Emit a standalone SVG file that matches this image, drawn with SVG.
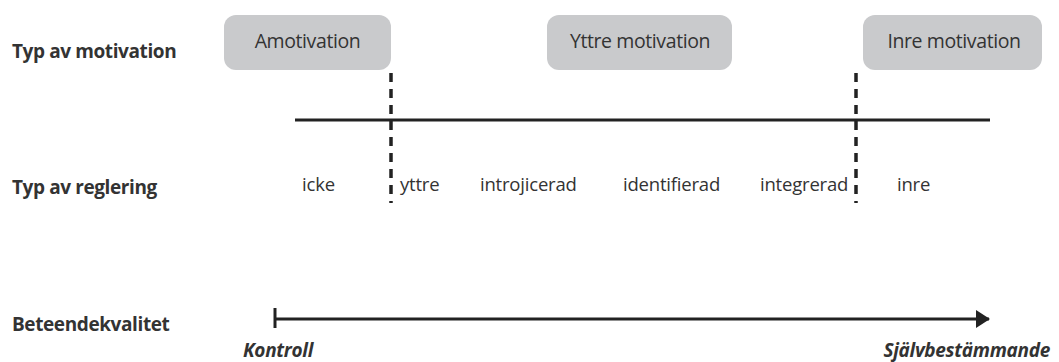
<svg xmlns="http://www.w3.org/2000/svg" width="1059" height="362" viewBox="0 0 1059 362">
<style>
.lbl{font-family:"Open Sans","Liberation Sans",sans-serif;font-weight:bold;font-size:19px;fill:#333;letter-spacing:-0.4px}
.box{fill:#c9cacc}
.bt{font-family:"Open Sans","Liberation Sans",sans-serif;font-size:19.5px;fill:#333;text-anchor:middle;letter-spacing:-0.4px}
.reg{font-family:"Open Sans","Liberation Sans",sans-serif;font-size:18.5px;fill:#333;letter-spacing:-0.2px}
.end{font-family:"Open Sans","Liberation Sans",sans-serif;font-size:19px;font-weight:bold;font-style:italic;fill:#333;letter-spacing:-0.3px}
.dash{stroke:#222;stroke-width:3.5;stroke-dasharray:9 7;fill:none}
.ln{stroke:#222;stroke-width:3;fill:none}
</style>
<defs>
<marker id="arr" markerWidth="14" markerHeight="18" refX="13" refY="9" orient="auto" markerUnits="userSpaceOnUse">
<path d="M0,0 L14,9 L0,18 Z" fill="#222"/>
</marker>
</defs>
<rect width="1059" height="362" fill="#fff"/>
<g id="row-labels">
<text class="lbl" x="12" y="58">Typ av motivation</text>
<text class="lbl" x="12" y="194">Typ av reglering</text>
<text class="lbl" x="12" y="331">Beteendekvalitet</text>
</g>
<g id="amotivation">
<rect class="box" x="224" y="15" width="167" height="55" rx="12"/>
<text class="bt" x="307.5" y="48">Amotivation</text>
</g>
<g id="yttre-motivation">
<rect class="box" x="547" y="15" width="185" height="55" rx="12"/>
<text class="bt" x="640" y="48">Yttre motivation</text>
</g>
<g id="inre-motivation">
<rect class="box" x="863" y="15" width="179" height="55" rx="12"/>
<text class="bt" x="954" y="48">Inre motivation</text>
</g>
<g id="regulation">
<text class="reg" x="302" y="191">icke</text>
<text class="reg" x="400" y="191">yttre</text>
<text class="reg" x="480" y="191">introjicerad</text>
<text class="reg" x="623" y="191">identifierad</text>
<text class="reg" x="760" y="191">integrerad</text>
<text class="reg" x="897" y="191">inre</text>
</g>
<g id="connectors">
<line class="ln" x1="295" y1="120" x2="990" y2="120"/>
<line class="dash" x1="391" y1="73" x2="391" y2="203"/>
<line class="dash" x1="856" y1="73" x2="856" y2="203"/>
<line class="ln" x1="275" y1="308" x2="275" y2="328"/>
<line class="ln" x1="275" y1="319" x2="989" y2="319" marker-end="url(#arr)"/>
</g>
<g id="axis-ends">
<text class="end" x="243" y="357">Kontroll</text>
<text class="end" x="1050" y="357" text-anchor="end">Självbestämmande</text>
</g>
</svg>
